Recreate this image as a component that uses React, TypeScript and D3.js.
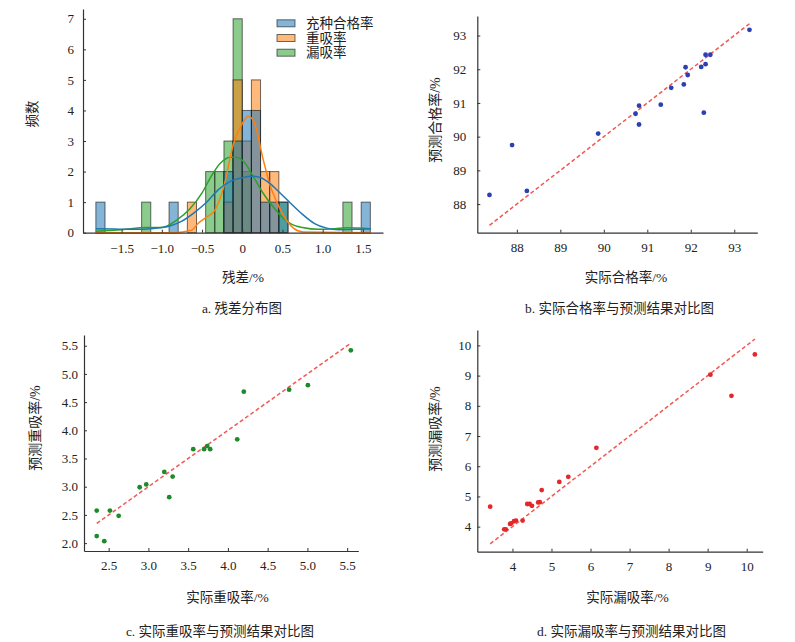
import { useEffect, useRef } from "react";
import * as d3 from "d3";

// ---- histogram (a) ----
const SERIES = ["充种合格率", "重吸率", "漏吸率"];
const SERIES_COLORS = ["#1f77b4", "#ff7f0e", "#2ca02c"];
const BIN_START = -1.82;
const BIN_WIDTH = 0.11375;
const countsQual = [1, 0, 0, 0, 0, 0, 0, 0, 1, 0, 0, 0, 0, 0, 2, 3, 4, 4, 1, 1, 1, 0, 0, 0, 0, 0, 0, 0, 0, 1];
const countsHeavy = [0, 0, 0, 0, 0, 0, 0, 0, 0, 0, 1, 0, 0, 0, 1, 5, 3, 5, 2, 2, 0, 0, 0, 0, 0, 0, 0, 0, 0, 0];
const countsLeak = [0, 0, 0, 0, 0, 1, 0, 0, 0, 0, 0, 0, 2, 2, 3, 7, 2, 0, 0, 0, 1, 0, 0, 0, 0, 0, 0, 1, 0, 0];

// kde curves (residual, count)
const kdeQualX = [-1.82, -1.6, -1.35, -1.1, -0.9, -0.75, -0.6, -0.45, -0.3, -0.15, 0, 0.12, 0.23, 0.35, 0.47, 0.58, 0.75, 0.9, 1.05, 1.2, 1.4, 1.6];
const kdeQualY = [0.13, 0.12, 0.11, 0.14, 0.22, 0.38, 0.65, 0.98, 1.4, 1.68, 1.8, 1.85, 1.8, 1.6, 1.3, 1.02, 0.6, 0.3, 0.15, 0.1, 0.11, 0.13];
const kdeHeavyX = [-1.82, -0.85, -0.63, -0.55, -0.45, -0.34, -0.23, -0.11, 0, 0.075, 0.15, 0.26, 0.34, 0.43, 0.55, 0.64, 0.76, 1.6];
const kdeHeavyY = [0, 0, 0.08, 0.3, 0.5, 0.74, 1.5, 2.9, 3.57, 3.81, 3.6, 2.4, 1.6, 1.0, 0.41, 0.14, 0.02, 0];
const kdeLeakX = [-1.82, -1.5, -1.2, -1.0, -0.82, -0.65, -0.5, -0.39, -0.27, -0.15, -0.08, 0.02, 0.14, 0.26, 0.39, 0.5, 0.6, 0.75, 0.95, 1.15, 1.3, 1.45, 1.6];
const kdeLeakY = [0.05, 0.1, 0.17, 0.17, 0.4, 0.78, 1.3, 1.83, 2.28, 2.47, 2.47, 2.32, 1.83, 1.29, 0.83, 0.5, 0.3, 0.17, 0.11, 0.13, 0.16, 0.15, 0.13];

const histXTicks = [-1.5, -1.0, -0.5, 0, 0.5, 1.0, 1.5];
const histYTicks = [0, 1, 2, 3, 4, 5, 6, 7];

// ---- scatter (b) 合格率 ----
const qualActual = [87.37, 87.89, 88.23, 89.87, 90.73, 90.81, 90.81, 91.31, 91.55, 91.84, 91.88, 91.93, 92.24, 92.34, 92.34, 92.45, 92.3, 93.35];
const qualPred = [88.27, 89.75, 88.39, 90.09, 90.68, 90.92, 90.36, 90.95, 91.45, 91.55, 92.06, 91.83, 92.07, 92.43, 92.15, 92.43, 90.71, 93.17];
const qualTicks = [88, 89, 90, 91, 92, 93];

// ---- scatter (c) 重吸率 ----
const heavyActual = [2.35, 2.35, 2.445, 2.516, 2.626, 2.89, 2.973, 3.2, 3.262, 3.305, 3.564, 3.7, 3.74, 3.777, 4.117, 4.2, 4.77, 5.006, 5.546];
const heavyPred = [2.577, 2.124, 2.035, 2.577, 2.484, 2.99, 3.04, 3.263, 2.815, 3.18, 3.665, 3.665, 3.72, 3.665, 3.84, 4.685, 4.72, 4.8, 5.418];
const heavyXTicks = [2.5, 3.0, 3.5, 4.0, 4.5, 5.0, 5.5];
const heavyYTicks = [2.0, 2.5, 3.0, 3.5, 4.0, 4.5, 5.0, 5.5];

// ---- scatter (d) 漏吸率 ----
const leakActual = [3.43, 3.79, 3.83, 3.94, 3.97, 4.04, 4.09, 4.26, 4.38, 4.44, 4.5, 4.66, 4.7, 4.75, 5.2, 5.43, 6.15, 9.07, 9.61, 10.21];
const leakPred = [4.66, 3.91, 3.91, 4.09, 4.11, 4.18, 4.2, 4.2, 4.75, 4.75, 4.69, 4.8, 4.81, 5.21, 5.48, 5.65, 6.61, 9.03, 8.33, 9.7];
const leakTicks = [4, 5, 6, 7, 8, 9, 10];

const SERIF = "'Liberation Serif', 'Times New Roman', serif";
const CJK = "'Liberation Serif', 'Noto Sans CJK SC', serif";
const AXIS = "#333";

type Sel = d3.Selection<SVGSVGElement, unknown, null, undefined>;

function styleAxis(g: d3.Selection<SVGGElement, unknown, null, undefined>) {
  g.attr("font-family", SERIF).attr("font-size", 13);
  g.select(".domain").attr("stroke", AXIS).attr("stroke-width", 1.2);
  g.selectAll(".tick line").attr("stroke", AXIS).attr("stroke-width", 1);
  g.selectAll(".tick text").attr("fill", "#222");
}

function label(svg: Sel, text: string, x: number, y: number, size = 13.5, rotate = false) {
  svg
    .append("text")
    .attr("x", x)
    .attr("y", y)
    .attr("text-anchor", "middle")
    .attr("dominant-baseline", "central")
    .attr("font-family", CJK)
    .attr("font-size", size)
    .attr("fill", "#222")
    .attr("transform", rotate ? `rotate(-90,${x},${y})` : null)
    .text(text);
}

const minus = (s: string) => s.replace("-", "\u2212");

function drawHist(svg: Sel) {
  const x = d3.scaleLinear().domain([-1.98, 1.75]).range([83, 383]);
  const y = d3.scaleLinear().domain([0, 7.32]).range([232.7, 9]);
  const allCounts = [countsQual, countsHeavy, countsLeak];
  const kdes = [
    [kdeQualX, kdeQualY],
    [kdeHeavyX, kdeHeavyY],
    [kdeLeakX, kdeLeakY],
  ];

  // seaborn draws the hue levels in reverse, first one ends on top
  [2, 1, 0].forEach((s) => {
    const bars = allCounts[s]
      .map((c, i) => ({ x0: BIN_START + i * BIN_WIDTH, x1: BIN_START + (i + 1) * BIN_WIDTH, c }))
      .filter((d) => d.c > 0);
    svg
      .append("g")
      .selectAll("rect")
      .data(bars)
      .join("rect")
      .attr("x", (d) => x(d.x0))
      .attr("width", (d) => x(d.x1) - x(d.x0))
      .attr("y", (d) => y(d.c))
      .attr("height", (d) => y(0) - y(d.c))
      .attr("fill", SERIES_COLORS[s])
      .attr("fill-opacity", 0.55)
      .attr("stroke", "#111")
      .attr("stroke-opacity", 0.6)
      .attr("stroke-width", 1);
  });

  [2, 1, 0].forEach((s) => {
    const [kx, ky] = kdes[s];
    const pts = kx.map((v, i) => [v, ky[i]] as [number, number]);
    const line = d3
      .line<[number, number]>()
      .x((d) => x(d[0]))
      .y((d) => y(d[1]))
      .curve(d3.curveMonotoneX);
    svg
      .append("path")
      .datum(pts)
      .attr("d", line)
      .attr("fill", "none")
      .attr("stroke", SERIES_COLORS[s])
      .attr("stroke-width", 1.5);
  });

  svg
    .append("g")
    .attr("transform", `translate(0,${y(0)})`)
    .call(
      d3
        .axisBottom(x)
        .tickValues(histXTicks)
        .tickFormat((d) => (d === 0 ? "0" : minus(d3.format(".1f")(d as number))))
        .tickSize(-3)
        .tickSizeOuter(0)
        .tickPadding(11)
    )
    .call(styleAxis);

  svg
    .append("g")
    .attr("transform", `translate(${x.range()[0]},0)`)
    .call(d3.axisLeft(y).tickValues(histYTicks).tickFormat(d3.format("d")).tickSize(-3).tickSizeOuter(0).tickPadding(9))
    .call(styleAxis);

  // legend
  SERIES.forEach((name, i) => {
    const cy = 23.3 + i * 14.7;
    svg
      .append("rect")
      .attr("x", 277)
      .attr("y", cy - 3.5)
      .attr("width", 18)
      .attr("height", 7)
      .attr("fill", SERIES_COLORS[i])
      .attr("fill-opacity", 0.55)
      .attr("stroke", "#111")
      .attr("stroke-opacity", 0.6);
    svg
      .append("text")
      .attr("x", 306)
      .attr("y", cy)
      .attr("dominant-baseline", "central")
      .attr("font-family", CJK)
      .attr("font-size", 13.5)
      .attr("fill", "#222")
      .text(name);
  });

  label(svg, "频数", 32.5, 114, 13.5, true);
  label(svg, "残差/%", 243, 277.5);
  label(svg, "a.  残差分布图", 242, 308);
}

interface ScatterCfg {
  actual: number[];
  pred: number[];
  xDomain: [number, number];
  yDomain: [number, number];
  xRange: [number, number];
  yRange: [number, number];
  xTicks: number[];
  yTicks: number[];
  fmt: string;
  color: string;
  yPad: number;
}

function drawScatter(svg: Sel, c: ScatterCfg) {
  const x = d3.scaleLinear().domain(c.xDomain).range(c.xRange);
  const y = d3.scaleLinear().domain(c.yDomain).range(c.yRange);
  const fmt = d3.format(c.fmt);

  svg
    .append("g")
    .attr("transform", `translate(0,${c.yRange[0]})`)
    .call(d3.axisBottom(x).tickValues(c.xTicks).tickFormat((d) => fmt(d as number)).tickSize(-3).tickSizeOuter(0).tickPadding(10))
    .call(styleAxis);
  svg
    .append("g")
    .attr("transform", `translate(${c.xRange[0]},0)`)
    .call(d3.axisLeft(y).tickValues(c.yTicks).tickFormat((d) => fmt(d as number)).tickSize(-3).tickSizeOuter(0).tickPadding(c.yPad))
    .call(styleAxis);

  const [lo, hi] = d3.extent(c.actual) as [number, number];
  svg
    .append("line")
    .attr("x1", x(lo))
    .attr("y1", y(lo))
    .attr("x2", x(hi))
    .attr("y2", y(hi))
    .attr("stroke", "#ee3b36")
    .attr("stroke-opacity", 0.85)
    .attr("stroke-width", 1.5)
    .attr("stroke-dasharray", "4,2.5");

  svg
    .append("g")
    .selectAll("circle")
    .data(c.actual.map((a, i) => [a, c.pred[i]]))
    .join("circle")
    .attr("cx", (d) => x(d[0]))
    .attr("cy", (d) => y(d[1]))
    .attr("r", 2.4)
    .attr("fill", c.color);
}

export default function App() {
  const ref = useRef<SVGSVGElement>(null);

  useEffect(() => {
    if (!ref.current) return;
    const svg = d3.select(ref.current);
    svg.selectAll("*").remove();
    svg.append("rect").attr("width", 795).attr("height", 642).attr("fill", "#fff");

    drawHist(svg);

    drawScatter(svg, {
      actual: qualActual,
      pred: qualPred,
      xDomain: [87.09, 93.53],
      yDomain: [87.15, 93.58],
      xRange: [477.3, 757.3],
      yRange: [232.7, 16],
      xTicks: qualTicks,
      yTicks: qualTicks,
      fmt: "d",
      color: "#2c3fb3",
      yPad: 11,
    });
    label(svg, "预测合格率/%", 435, 120, 14, true);
    label(svg, "实际合格率/%", 626, 277.5);
    label(svg, "b.  实际合格率与预测结果对比图", 619.5, 308);

    drawScatter(svg, {
      actual: heavyActual,
      pred: heavyPred,
      xDomain: [2.19, 5.64],
      yDomain: [1.86, 5.69],
      xRange: [84, 358.3],
      yRange: [551, 335],
      xTicks: heavyXTicks,
      yTicks: heavyYTicks,
      fmt: ".1f",
      color: "#1f8a2c",
      yPad: 6,
    });
    label(svg, "预测重吸率/%", 35, 428, 14, true);
    label(svg, "实际重吸率/%", 227.5, 597.5);
    label(svg, "c.  实际重吸率与预测结果对比图", 220, 631);

    drawScatter(svg, {
      actual: leakActual,
      pred: leakPred,
      xDomain: [3.1, 10.41],
      yDomain: [3.17, 10.51],
      xRange: [477.3, 762.7],
      yRange: [551.7, 330],
      xTicks: leakTicks,
      yTicks: leakTicks,
      fmt: "d",
      color: "#e3282b",
      yPad: 6,
    });
    label(svg, "预测漏吸率/%", 435, 429, 14, true);
    label(svg, "实际漏吸率/%", 627.5, 597.5);
    label(svg, "d.  实际漏吸率与预测结果对比图", 631.5, 631);
  }, []);

  return (
    <svg
      ref={ref}
      width={795}
      height={642}
      style={{ position: "absolute", left: 0, top: 0 }}
    />
  );
}
